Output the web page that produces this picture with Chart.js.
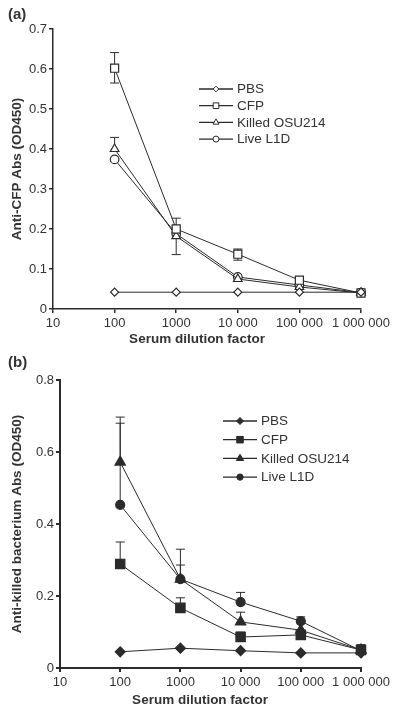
<!DOCTYPE html>
<html>
<head>
<meta charset="utf-8">
<script src="https://cdn.jsdelivr.net/npm/chart.js@4.4.0/dist/chart.umd.min.js"></script>
<style>
  html, body { margin: 0; padding: 0; background: #fff; }
  .panel { position: absolute; left: 0; width: 400px; }
</style>
</head>
<body>
<div class="panel" style="top:0"><canvas id="chartA" width="400" height="355"></canvas></div>
<div class="panel" style="top:355px"><canvas id="chartB" width="400" height="358"></canvas></div>
<script>
// serum dilutions (x) and the fixed decade ticks
const dilution = [100, 1000, 10000, 100000, 1000000];
const xTicks = [10, 100, 1000, 10000, 100000, 1000000];
const xTickLabels = ['10', '100', '1000', '10 000', '100 000', '1 000 000'];
const seriesNames = ['PBS', 'CFP', 'Killed OSU214', 'Live L1D'];

// (a) anti-CFP
const pbsA = [0.042, 0.042, 0.042, 0.042, 0.042];
const cfpA = [0.602, 0.200, 0.137, 0.072, 0.040];
const killedA = [0.400, 0.182, 0.075, 0.055, 0.040];
const liveA = [0.374, 0.188, 0.080, 0.060, 0.041];
const cfpAHigh = [0.641, 0.227, 0.150, 0.078, null];
const cfpALow = [0.565, null, 0.122, null, null];
const killedAHigh = [0.429, null, null, null, null];
const killedALow = [null, 0.136, null, null, null];

// (b) anti-killed bacterium
const pbsB = [0.045, 0.055, 0.048, 0.042, 0.042];
const cfpB = [0.289, 0.167, 0.086, 0.092, 0.050];
const killedB = [0.572, 0.247, 0.128, 0.105, 0.050];
const liveB = [0.453, 0.247, 0.183, 0.130, 0.048];
const cfpBHigh = [0.350, 0.195, 0.100, 0.100, null];
const killedBHigh = [0.697, 0.286, 0.155, null, 0.060];
const liveBHigh = [0.680, 0.330, 0.210, 0.142, 0.065];

const ink = '#2b2b2b';
const txt = '#333';
const fontName = '"Liberation Sans", Arial, Helvetica, sans-serif';

const pts = vals => dilution.map((d, i) => ({ x: d, y: vals[i] }));

function series(label, vals, style, radius, fill, hi, lo) {
  return {
    label, data: pts(vals),
    borderColor: ink, borderWidth: 1,
    pointStyle: style, pointRadius: radius, pointHoverRadius: radius,
    pointBackgroundColor: fill, pointBorderColor: ink, pointBorderWidth: 1.2,
    tension: 0, clip: false,
    errHigh: hi || [], errLow: lo || []
  };
}

// error bars, drawn under the markers
const errorBars = {
  id: 'errorBars',
  beforeDatasetsDraw(chart) {
    const { ctx, scales: { x, y } } = chart;
    ctx.save();
    ctx.strokeStyle = ink;
    ctx.lineWidth = 1;
    chart.data.datasets.forEach(ds => {
      ds.data.forEach((p, i) => {
        [ds.errHigh[i], ds.errLow[i]].forEach(e => {
          if (e == null) return;
          const px = x.getPixelForValue(p.x);
          const y0 = y.getPixelForValue(p.y), y1 = y.getPixelForValue(e);
          ctx.beginPath();
          ctx.moveTo(px, y0); ctx.lineTo(px, y1);
          ctx.moveTo(px - 4.5, y1); ctx.lineTo(px + 4.5, y1);
          ctx.stroke();
        });
      });
    });
    ctx.restore();
  }
};

// legend with a line through each marker, plus panel letter and axis titles
const decor = {
  id: 'decor',
  afterDraw(chart, args, o) {
    const ctx = chart.ctx;
    const area = chart.chartArea;
    ctx.save();
    ctx.fillStyle = txt;
    ctx.textBaseline = 'middle';
    ctx.font = 'bold 15px ' + fontName;
    ctx.textAlign = 'left';
    ctx.fillText(o.letter, 8, o.letterY);

    ctx.font = 'bold 13.5px ' + fontName;
    ctx.textAlign = 'center';
    ctx.fillText(o.xTitle, o.xTitleX, o.xTitleY);
    ctx.save();
    ctx.translate(17, (area.top + area.bottom) / 2);
    ctx.rotate(-Math.PI / 2);
    ctx.fillText(o.yTitle, 0, 0);
    ctx.restore();

    ctx.font = '13.5px ' + fontName;
    ctx.textAlign = 'left';
    chart.data.datasets.forEach((ds, i) => {
      const yy = o.legTop + i * o.legGap;
      ctx.strokeStyle = ink;
      ctx.lineWidth = 1.3;
      ctx.beginPath();
      ctx.moveTo(o.legLeft, yy); ctx.lineTo(o.legLeft + 34, yy);
      ctx.stroke();
      ctx.fillStyle = ds.pointBackgroundColor;
      ctx.lineWidth = 1;
      Chart.helpers.drawPoint(ctx, { pointStyle: ds.pointStyle, radius: ds.pointRadius * 0.7, borderWidth: 1, rotation: 0 }, o.legLeft + 17, yy);
      ctx.fillStyle = txt;
      ctx.fillText(ds.label, o.legLeft + 38, yy + 0.5);
    });
    ctx.restore();
  }
};

function makeChart(id, datasets, yMax, yStep, box, deco, axisWidth) {
  return new Chart(document.getElementById(id), {
    type: 'line',
    data: { datasets },
    plugins: [errorBars, decor],
    options: {
      responsive: false,
      animation: false,
      layout: { padding: { top: box.top, right: box.right, left: 0, bottom: 0 } },
      plugins: { legend: { display: false }, tooltip: { enabled: false }, decor: deco },
      scales: {
        x: {
          type: 'logarithmic', min: 10, max: 1000000,
          afterBuildTicks: s => { s.ticks = xTicks.map(v => ({ value: v })); },
          afterFit: s => { s.height = box.xHeight; },
          ticks: {
            color: txt, font: { family: fontName, size: 13 }, padding: 3,
            maxRotation: 0, autoSkip: false,
            callback: v => xTickLabels[xTicks.indexOf(v)]
          },
          grid: { drawOnChartArea: false, drawTicks: true, tickLength: 4, color: ink, lineWidth: axisWidth },
          border: { display: true, color: ink, width: axisWidth }
        },
        y: {
          min: 0, max: yMax,
          afterFit: s => { s.width = box.left; },
          ticks: { stepSize: yStep, color: txt, font: { family: fontName, size: 13 }, padding: 2 },
          grid: { drawOnChartArea: false, drawTicks: true, tickLength: 4, color: ink, lineWidth: axisWidth },
          border: { display: true, color: ink, width: axisWidth }
        }
      }
    }
  });
}

makeChart('chartA', [
  series(seriesNames[0], pbsA, 'rectRot', 4, '#fff'),
  series(seriesNames[1], cfpA, 'rect', 5.7, '#fff', cfpAHigh, cfpALow),
  series(seriesNames[2], killedA, 'triangle', 5, '#fff', killedAHigh, killedALow),
  series(seriesNames[3], liveA, 'circle', 4.3, '#fff')
], 0.7, 0.1,
  { top: 29, right: 39, left: 53, xHeight: 46 },
  { letter: '(a)', letterY: 15, xTitle: 'Serum dilution factor', xTitleX: 197, xTitleY: 339,
    yTitle: 'Anti-CFP Abs (OD450)', legLeft: 199, legTop: 89, legGap: 16.7 },
  1.5);

makeChart('chartB', [
  series(seriesNames[0], pbsB, 'rectRot', 5, ink),
  series(seriesNames[1], cfpB, 'rect', 6.6, ink, cfpBHigh),
  series(seriesNames[2], killedB, 'triangle', 6, ink, killedBHigh),
  series(seriesNames[3], liveB, 'circle', 4.5, ink, liveBHigh)
], 0.8, 0.2,
  { top: 25, right: 39, left: 60, xHeight: 45 },
  { letter: '(b)', letterY: 8, xTitle: 'Serum dilution factor', xTitleX: 200, xTitleY: 345,
    yTitle: 'Anti-killed bacterium Abs (OD450)', legLeft: 223, legTop: 66, legGap: 18.7 },
  2);
</script>
</body>
</html>
